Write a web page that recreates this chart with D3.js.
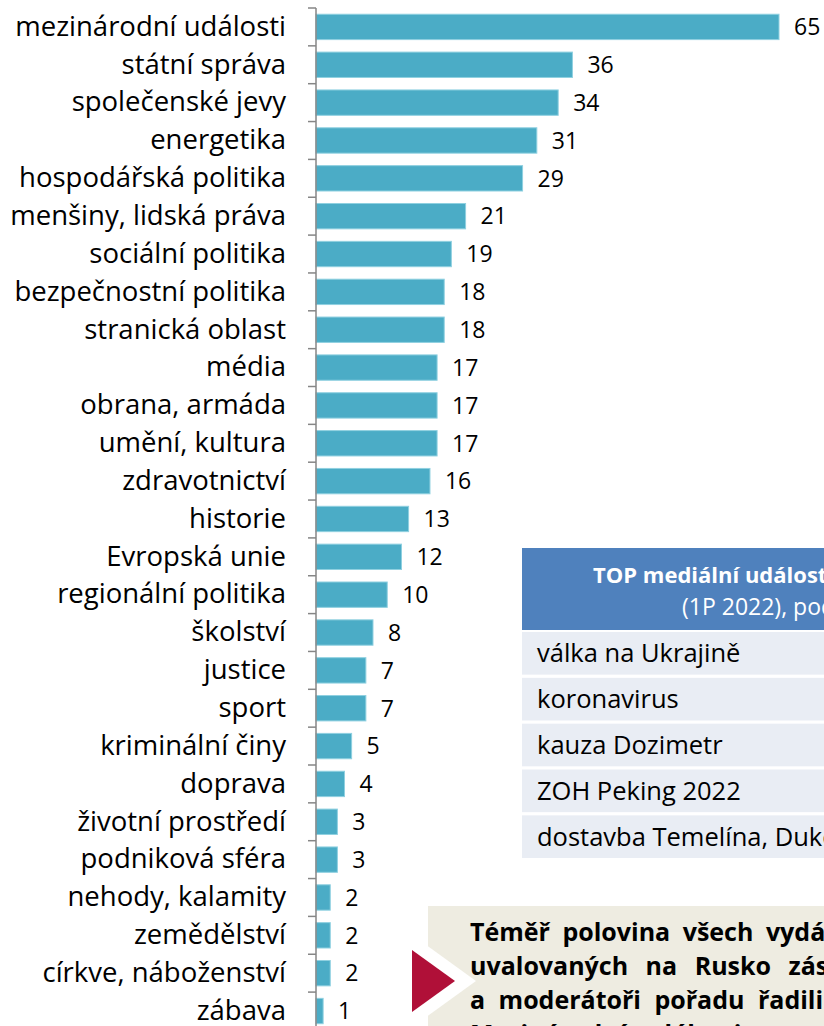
<!DOCTYPE html>
<html>
<head>
<meta charset="utf-8">
<script src="https://cdn.jsdelivr.net/npm/d3@7"></script>
<style>
  body { margin: 0; background: #fff; overflow: hidden; }
  svg { display: block; font-family: "Open Sans", sans-serif; }
</style>
</head>
<body>
<script>
var categories = ['mezinárodní události', 'státní správa', 'společenské jevy', 'energetika', 'hospodářská politika',
    'menšiny, lidská práva', 'sociální politika', 'bezpečnostní politika', 'stranická oblast', 'média',
    'obrana, armáda', 'umění, kultura', 'zdravotnictví', 'historie', 'Evropská unie', 'regionální politika',
    'školství', 'justice', 'sport', 'kriminální činy', 'doprava', 'životní prostředí', 'podniková sféra',
    'nehody, kalamity', 'zemědělství', 'církve, náboženství', 'zábava'];
var values = [65, 36, 34, 31, 29, 21, 19, 18, 18, 17, 17, 17, 16, 13, 12, 10, 8, 7, 7, 5, 4, 3, 3, 2, 2, 2, 1];

var topTitle = ['TOP mediální události', '(1P 2022), podle počtu zpráv'];
var topEvents = ['válka na Ukrajině', 'koronavirus', 'kauza Dozimetr', 'ZOH Peking 2022', 'dostavba Temelína, Dukovan'];

var noteLines = ['Téměř polovina všech vydání', 'uvalovaných na Rusko zásadně', 'a moderátoři pořadu řadili', 'Mezinárodní události'];

var width = 824, height = 1026;
var axisX = 316, step = 37.85, topY = 8;

var svg = d3.select('body').append('svg').attr('width', width).attr('height', height);

var x = d3.scaleLinear().domain([0, 65]).range([axisX, 779]);
var y = d3.scaleBand().domain(categories)
    .range([topY, topY + step * categories.length])
    .paddingInner(0.33).paddingOuter(0.165);

// bars
svg.append('g').selectAll('rect')
    .data(values)
    .enter().append('rect')
    .attr('x', x(0))
    .attr('y', function(d, i) { return y(categories[i]); })
    .attr('width', function(d) { return x(d) - x(0); })
    .attr('height', y.bandwidth())
    .attr('fill', '#4bacc6')
    .attr('stroke', '#8fd0e0')
    .attr('stroke-width', 1);

// value labels
svg.append('g').selectAll('text')
    .data(values)
    .enter().append('text')
    .attr('x', function(d) { return x(d) + 15; })
    .attr('y', function(d, i) { return y(categories[i]) + y.bandwidth() / 2; })
    .attr('dy', '0.36em')
    .attr('font-size', 23)
    .attr('fill', '#000')
    .text(function(d) { return d; });

// category axis
var yAxis = d3.axisLeft(y).tickSize(0).tickPadding(30);
var ag = svg.append('g').attr('transform', 'translate(' + axisX + ',0)').call(yAxis);
ag.select('.domain').remove();
ag.selectAll('text').attr('font-size', 27.5).attr('fill', '#000').attr('font-family', '"Open Sans", sans-serif');

var gap = (y.step() - y.bandwidth()) / 2;
var bounds = categories.map(function(c) { return y(c) - gap; });
bounds.push(y(categories[categories.length - 1]) + y.bandwidth() + gap);
svg.append('line').attr('x1', axisX).attr('x2', axisX)
    .attr('y1', bounds[0]).attr('y2', bounds[bounds.length - 1])
    .attr('stroke', '#868686').attr('stroke-width', 1.5);
svg.append('g').selectAll('line').data(bounds).enter().append('line')
    .attr('x1', axisX - 8).attr('x2', axisX)
    .attr('y1', function(d) { return d; }).attr('y2', function(d) { return d; })
    .attr('stroke', '#868686').attr('stroke-width', 1.5);

// TOP table
var tbl = svg.append('g');
tbl.append('rect').attr('x', 522).attr('y', 548).attr('width', 420).attr('height', 82).attr('fill', '#4f81bd');
tbl.append('text').attr('x', 593).attr('y', 583).attr('font-size', 22).attr('font-weight', 'bold')
    .attr('fill', '#fff').text(topTitle[0]);
tbl.append('text').attr('x', 682).attr('y', 615).attr('font-size', 23)
    .attr('fill', '#fff').text(topTitle[1]);
var row = d3.scaleBand().domain(topEvents).range([632, 858]).paddingInner(0.07);
tbl.selectAll('.row').data(topEvents).enter().append('rect')
    .attr('x', 522).attr('y', function(d) { return row(d); })
    .attr('width', 420).attr('height', row.bandwidth())
    .attr('fill', '#e9edf4');
tbl.selectAll('.lbl').data(topEvents).enter().append('text')
    .attr('x', 537).attr('y', function(d) { return row(d) + row.bandwidth() / 2; })
    .attr('dy', '0.36em').attr('font-size', 25.5).attr('fill', '#000')
    .text(function(d) { return d; });

// note box
var nb = svg.append('g');
nb.append('rect').attr('x', 428).attr('y', 906).attr('width', 420).attr('height', 140).attr('fill', '#eeece1');
nb.append('path').attr('d', 'M400,926L476,981L400,1036Z').attr('fill', '#fff');
nb.append('path').attr('d', 'M412,950L455,981L412,1012Z').attr('fill', '#b01038');
var spacing = [6, 11, 7, 7];
nb.selectAll('text').data(noteLines).enter().append('text')
    .attr('x', 470).attr('y', function(d, i) { return 941 + i * 34; })
    .attr('font-size', 25).attr('font-weight', 'bold').attr('fill', '#000')
    .attr('word-spacing', function(d, i) { return spacing[i]; })
    .text(function(d) { return d; });
</script>
</body>
</html>
